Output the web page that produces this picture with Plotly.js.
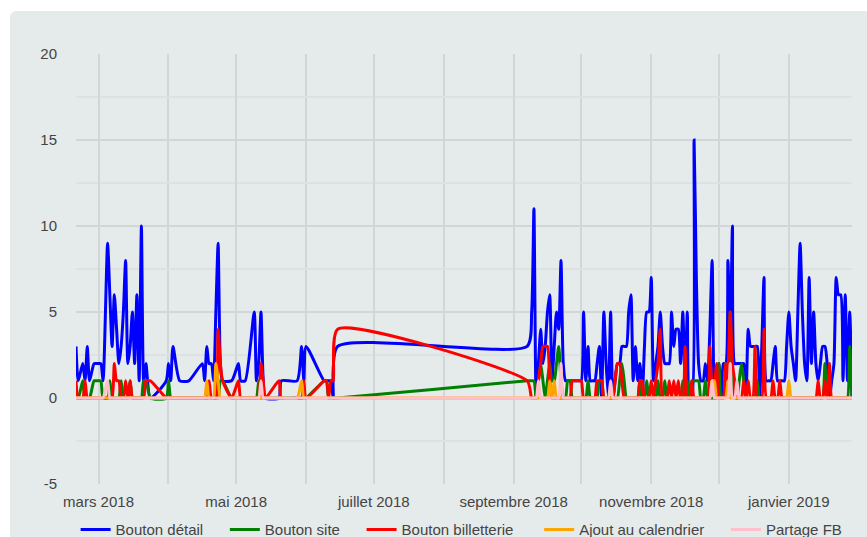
<!DOCTYPE html>
<html>
<head>
<meta charset="utf-8">
<script src="https://cdn.plot.ly/plotly-3.0.1.min.js"></script>
<style>
  html, body { margin: 0; padding: 0; background: #ffffff; overflow: hidden; width: 867px; height: 537px; }
  #wrap { position: absolute; left: 10px; top: 11px; width: 880px; height: 560px; background: #e5eaea; border-radius: 6px; }
  #chart { width: 880px; height: 560px; }
</style>
</head>
<body>
<div id="wrap"><div id="chart"></div></div>
<script>
const dates = [
  '2018-02-19','2018-02-20','2018-02-22','2018-02-23','2018-02-24','2018-02-25','2018-02-27','2018-02-28',
  '2018-03-01','2018-03-02','2018-03-03','2018-03-05','2018-03-06','2018-03-07','2018-03-08','2018-03-09','2018-03-10','2018-03-11','2018-03-12','2018-03-13','2018-03-14','2018-03-15','2018-03-16','2018-03-17','2018-03-18','2018-03-19','2018-03-20','2018-03-21','2018-03-22','2018-03-24','2018-03-31',
  '2018-04-01','2018-04-02','2018-04-03','2018-04-06','2018-04-10','2018-04-16','2018-04-17','2018-04-18','2018-04-19','2018-04-20','2018-04-21','2018-04-22','2018-04-23','2018-04-24','2018-04-25','2018-04-29',
  '2018-05-02','2018-05-03','2018-05-05','2018-05-09','2018-05-10','2018-05-11','2018-05-12','2018-05-13','2018-05-14','2018-05-20','2018-05-21','2018-05-28','2018-05-30','2018-05-31',
  '2018-06-01','2018-06-09','2018-06-10','2018-06-11','2018-06-12','2018-06-13','2018-06-15',
  '2018-09-07','2018-09-09','2018-09-10','2018-09-11','2018-09-12','2018-09-13','2018-09-14','2018-09-15','2018-09-16','2018-09-17','2018-09-18','2018-09-19','2018-09-20','2018-09-21','2018-09-22','2018-09-23','2018-09-24','2018-09-25','2018-09-26','2018-09-27','2018-09-28','2018-09-29','2018-09-30',
  '2018-10-01','2018-10-02','2018-10-03','2018-10-04','2018-10-05','2018-10-06','2018-10-07','2018-10-08','2018-10-09','2018-10-10','2018-10-11','2018-10-12','2018-10-13','2018-10-14','2018-10-15','2018-10-16','2018-10-17','2018-10-18','2018-10-19','2018-10-20','2018-10-21','2018-10-22','2018-10-23','2018-10-24','2018-10-25','2018-10-26','2018-10-27','2018-10-28','2018-10-29','2018-10-30','2018-10-31',
  '2018-11-01','2018-11-02','2018-11-03','2018-11-04','2018-11-05','2018-11-06','2018-11-07','2018-11-08','2018-11-09','2018-11-10','2018-11-11','2018-11-12','2018-11-13','2018-11-14','2018-11-15','2018-11-16','2018-11-17','2018-11-18','2018-11-19','2018-11-20','2018-11-21','2018-11-22','2018-11-23','2018-11-24','2018-11-25','2018-11-26','2018-11-27','2018-11-28','2018-11-29','2018-11-30',
  '2018-12-01','2018-12-02','2018-12-03','2018-12-04','2018-12-05','2018-12-06','2018-12-07','2018-12-08','2018-12-09','2018-12-10','2018-12-11','2018-12-12','2018-12-13','2018-12-14','2018-12-15','2018-12-16','2018-12-17','2018-12-18','2018-12-19','2018-12-20','2018-12-21','2018-12-22','2018-12-23','2018-12-24','2018-12-25','2018-12-26','2018-12-27','2018-12-28','2018-12-29','2018-12-30','2018-12-31',
  '2019-01-01','2019-01-02','2019-01-03','2019-01-04','2019-01-05','2019-01-06','2019-01-07','2019-01-08','2019-01-09','2019-01-10','2019-01-11','2019-01-12','2019-01-13','2019-01-14','2019-01-15','2019-01-16','2019-01-17','2019-01-18','2019-01-19','2019-01-20','2019-01-21','2019-01-22','2019-01-23','2019-01-24','2019-01-25','2019-01-26','2019-01-27','2019-01-28','2019-01-29'
];

const boutonDetail = [
  3,1,2,1,3,1,2,2,
  2,2,1,9,6,3,6,4,2,3,5,8,2,3,5,2,6,1,10,1,2,0,1,
  2,1,3,1,1,2,1,3,2,2,1,5,9,2,1,1,
  2,1,1,5,1,2,5,1,0,0,1,1,3,1,
  3,1,1,1,1,0,3,
  3,5,11,0,2,4,2,3,5,6,1,3,5,4,8,2,1,1,1,1,1,1,1,
  1,5,1,3,1,1,1,2,3,0,5,2,0,5,0,1,2,2,3,3,3,5,6,1,3,1,2,0,3,5,5,
  7,1,2,3,5,3,2,2,2,5,3,4,4,2,5,1,5,0,0,15,7,2,1,1,2,1,4,8,0,1,
  2,0,2,2,8,3,10,2,2,2,2,2,0,4,3,3,3,3,0,3,7,1,1,1,2,3,1,1,1,1,3,
  5,3,2,1,5,9,5,2,1,7,2,5,2,1,2,3,3,2,0,1,2,7,6,6,1,6,1,5,0
];
const boutonSite = [
  0,0,1,0,0,0,1,1,
  1,1,0,0,1,0,0,0,0,1,0,0,0,1,0,0,0,0,0,1,1,0,0,
  1,0,0,0,0,0,0,0,0,0,0,0,0,1,1,0,
  0,0,0,0,0,1,0,0,0,0,0,0,0,0,
  0,1,1,0,0,0,0,
  1,1,1,0,1,2,1,0,1,2,1,1,2,3,1,0,0,1,1,0,0,0,0,
  0,0,0,1,0,0,0,0,1,1,0,0,0,0,0,0,0,1,2,1,0,0,0,0,0,0,1,0,0,1,0,
  0,0,0,1,0,0,1,0,0,0,0,0,0,0,1,0,1,0,1,1,1,1,0,0,1,0,0,0,0,0,
  2,0,0,2,1,5,1,0,0,1,2,1,0,0,0,0,0,1,0,0,0,0,0,0,0,0,0,0,0,0,0,
  0,0,0,0,0,0,0,0,0,0,0,0,0,0,0,0,2,0,0,0,0,0,0,0,0,0,0,3,0
];
const boutonBilletterie = [
  1,0,0,1,0,0,0,0,
  0,0,0,0,0,0,2,1,1,0,0,1,0,1,0,0,0,0,0,0,1,1,0,
  0,0,0,0,0,0,0,0,1,0,0,0,4,2,1,0,
  1,0,0,0,0,0,2,1,0,1,0,0,0,1,
  0,1,1,0,1,1,4,
  1,0,0,0,1,2,3,3,3,1,0,0,0,0,0,0,0,0,0,1,1,1,1,
  1,0,0,0,0,0,0,1,1,1,0,0,0,0,0,1,2,2,1,0,0,0,0,0,0,0,1,1,0,0,0,
  1,0,1,2,4,0,0,0,1,0,1,0,1,0,0,3,0,0,1,0,0,0,0,0,0,0,3,1,1,2,
  0,0,0,2,1,5,2,1,0,0,0,1,0,1,0,0,3,0,0,0,4,0,0,0,1,0,0,1,0,0,0,
  0,0,0,0,0,0,0,0,0,0,0,0,0,1,0,0,1,0,2,0,0,0,0,0,0,0,0,0,0
];
const ajoutCalendrier = [
  0,0,0,0,0,0,0,0,
  0,0,0,0,0,0,0,0,0,0,0,0,0,0,0,0,0,0,0,0,0,0,0,
  0,0,0,0,0,0,0,1,0,0,0,2,1,0,0,0,
  0,0,0,0,0,0,0,0,0,0,0,0,1,0,
  0,0,0,0,0,0,0,
  0,0,0,0,0,0,0,0,0,1,0,1,0,0,0,0,0,0,0,0,0,0,0,
  0,0,0,0,0,0,0,0,0,0,0,0,0,0,0,0,0,0,0,0,0,0,0,0,0,0,0,0,0,0,0,
  0,0,0,0,0,0,0,0,0,0,0,0,0,0,0,0,0,0,0,0,0,0,0,0,0,0,0,1,1,0,
  0,0,0,0,1,0,0,0,0,0,0,0,0,0,0,0,0,0,0,0,0,0,0,0,0,0,0,0,0,0,0,
  1,0,0,0,0,0,0,0,0,0,0,0,0,0,0,0,0,0,0,0,0,0,0,0,0,0,0,0,0
];
const partageFB = [
  0,0,0,0,0,0,0,0,
  0,0,0,1,0,0,0,0,0,0,0,0,0,0,0,0,0,0,0,0,0,0,0,
  0,0,0,0,0,0,0,0,0,0,0,0,0,0,0,0,
  0,0,0,0,0,0,1,0,0,0,0,0,0,0,
  0,0,0,0,0,0,0,
  0,0,0,0,1,0,0,0,0,0,0,0,0,0,2,0,0,0,0,0,0,0,0,
  0,0,0,0,0,0,0,0,0,0,0,0,0,1,0,0,0,0,0,0,0,0,0,0,0,0,0,0,0,0,0,
  0,0,0,0,0,0,0,0,0,0,0,0,0,0,0,0,0,0,0,0,0,0,0,0,0,0,0,1,0,0,
  0,0,0,0,0,2,0,0,1,0,0,0,0,0,0,0,0,0,0,0,0,0,0,0,0,0,0,0,0,0,0,
  0,0,0,0,0,0,0,0,0,0,0,0,0,0,0,0,0,0,0,0,0,0,0,0,0,0,0,0,0
];

const seriesNames = ['Bouton détail','Bouton site','Bouton billetterie','Ajout au calendrier','Partage FB'];
const seriesValues = [boutonDetail, boutonSite, boutonBilletterie, ajoutCalendrier, partageFB];
const seriesColors = ['blue','green','red','orange','pink'];

const tickDates = ['2018-03-01','2018-05-01','2018-07-01','2018-09-01','2018-11-01','2019-01-01'];
const tickLabels = ['mars 2018','mai 2018','juillet 2018','septembre 2018','novembre 2018','janvier 2019'];
const yTickValues = [-5, 0, 5, 10, 15, 20];
const yTickLabels = ['-5', '0', '5', '10', '15', '20'];

// extra spacing after the legend labels, to match the wider gaps between legend entries
const legendPads = [4, 4, 5, 4, 0];

const traces = seriesNames.map((name, i) => ({
  type: 'scatter',
  mode: 'lines',
  name: name + '\u00a0'.repeat(legendPads[i]),
  x: dates,
  y: seriesValues[i],
  line: { color: seriesColors[i], width: 3, shape: 'spline', smoothing: 0.6 },
  hoverinfo: 'skip'
}));

const majorGrid = '#d2d6d6';
const minorGrid = '#dde1e1';

const layout = {
  width: 880,
  height: 560,
  margin: { l: 66, r: 38, t: 43, b: 87 },
  paper_bgcolor: 'rgba(0,0,0,0)',
  plot_bgcolor: 'rgba(0,0,0,0)',
  font: { family: '"Liberation Sans", Arial, sans-serif', size: 15, color: '#444' },
  showlegend: true,
  legend: {
    orientation: 'h',
    x: -0.0005, xanchor: 'left',
    y: -0.068, yanchor: 'top',
    font: { size: 15, color: '#444' },
    bgcolor: 'rgba(0,0,0,0)'
  },
  xaxis: {
    type: 'date',
    tickmode: 'array',
    tickvals: tickDates,
    ticktext: tickLabels,
    showgrid: true,
    gridcolor: majorGrid,
    gridwidth: 2,
    zeroline: false,
    showline: false,
    ticks: '',
    ticklabelstandoff: 7,
    minor: { tickmode: 'linear', tick0: '2018-01-01', dtick: 'M1', showgrid: true, gridcolor: majorGrid, gridwidth: 2, ticks: '' },
    tickfont: { size: 15, color: '#444' }
  },
  yaxis: {
    range: [-5, 20],
    tickmode: 'array',
    tickvals: yTickValues,
    ticktext: yTickLabels,
    showgrid: true,
    gridcolor: majorGrid,
    gridwidth: 2,
    zeroline: false,
    showline: false,
    ticks: '',
    ticklabelstandoff: 18,
    minor: { tickmode: 'linear', tick0: 0, dtick: 2.5, showgrid: true, gridcolor: minorGrid, gridwidth: 2, ticks: '' },
    tickfont: { size: 15, color: '#444' }
  }
};

Plotly.newPlot('chart', traces, layout, { displayModeBar: false, staticPlot: true });
</script>
</body>
</html>
